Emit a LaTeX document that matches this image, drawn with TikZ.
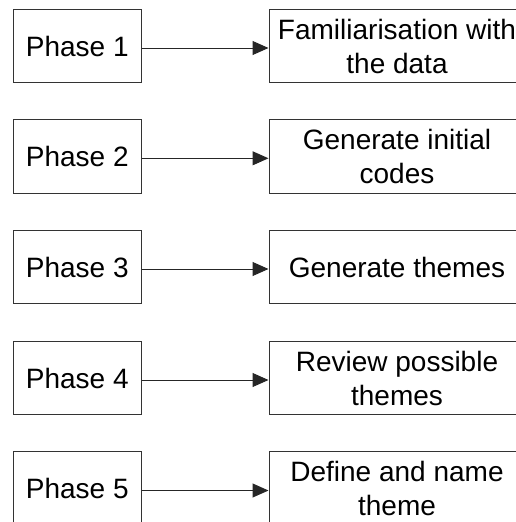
\documentclass[tikz,border=0pt]{standalone}
\usepackage{fontspec}
\setmainfont{Liberation Sans}
\usetikzlibrary{arrows.meta}
\begin{document}
\begin{tikzpicture}[x=1pt,y=-1pt,
  phasebox/.style={draw=black!80,line width=1pt,minimum width=128.5pt,minimum height=73.5pt,inner sep=0pt,font=\fontsize{28}{34}\selectfont,text=black},
  stepbox/.style={draw=black!80,line width=1pt,minimum width=256pt,minimum height=73.5pt,inner sep=0pt,align=center,font=\fontsize{28}{34}\selectfont,text=black},
  conn/.style={draw=black!85,line width=1pt,-{Triangle[length=16pt,width=14pt]}}]
\useasboundingbox (0,0) rectangle (516,522);
\foreach \i/\y/\t in {1/46/{Familiarisation with\\the data},2/156.3/{Generate initial\\codes},3/267/{Generate themes},4/378/{Review possible\\themes},5/488.5/{Define and name\\theme}}{
  \node[phasebox] (p\i) at (77.25,\y) {Phase \i};
  \node[stepbox] (s\i) at (397,\y) {\t};
  \draw[conn] ([yshift=-2pt]p\i.east) -- ([yshift=-2pt]s\i.west);
}
\end{tikzpicture}
\end{document}
